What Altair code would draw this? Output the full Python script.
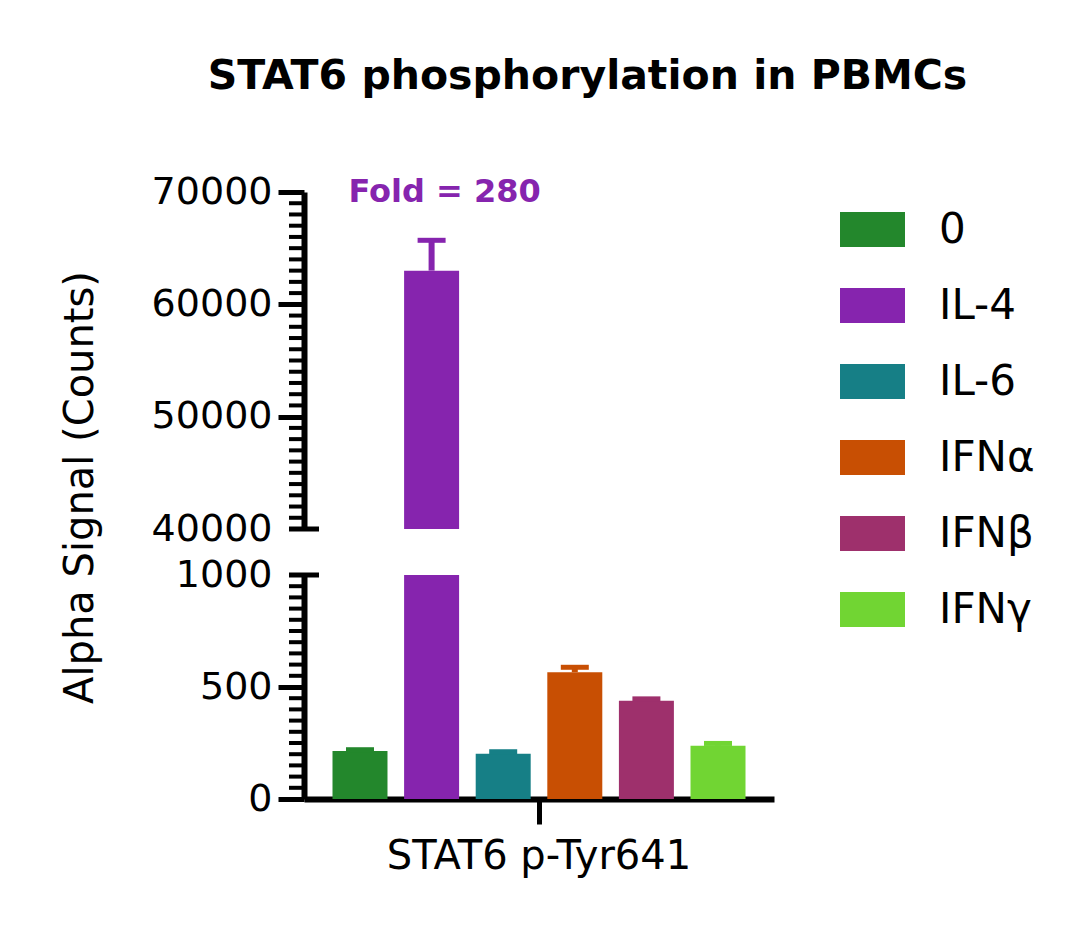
import altair as alt
import pandas as pd

# ---- data ----
treatments = ["0", "IL-4", "IL-6", "IFNα", "IFNβ", "IFNγ"]
means = [214, 63000, 202, 566, 439, 238]
errors = [6, 2700, 9, 22, 8, 10]
colors = ["#23872C", "#8624AE", "#167F86", "#C84F03", "#9E306C", "#71D533"]
group_name = "STAT6 p-Tyr641"
fold_label = "Fold = 280"
upper_major = [40000, 50000, 60000, 70000]
lower_major = [0, 500, 1000]
upper_minor = [v for v in range(41000, 70000, 1000) if v % 10000]
lower_minor = [v for v in range(50, 1000, 50) if v % 500]

FONT = "DejaVu Sans"
W = 470
H_UP = 337
H_LO = 224

df = pd.DataFrame({
    "group": [group_name] * len(treatments),
    "treatment": treatments,
    "mean": means,
    "top": [m + e for m, e in zip(means, errors)],
})


def x_enc(axis):
    return alt.X("group:N", scale=alt.Scale(paddingInner=0, paddingOuter=0),
                 title=None, axis=axis)


xo_enc = alt.XOffset("treatment:N", sort=treatments,
                     scale=alt.Scale(domain=treatments, paddingInner=0.232, paddingOuter=0.398))

legend = alt.Legend(title=None, orient="none", legendX=536, legendY=5,
                    symbolType="M-1,-0.54L1,-0.54L1,0.54L-1,0.54Z", symbolSize=4225,
                    symbolStrokeWidth=0, symbolOpacity=1,
                    labelFont=FONT, labelFontSize=42, labelColor="black",
                    labelOffset=34, rowPadding=22)


def panel(domain, major, minor, cap_value, x_axis, y_title):
    y_axis_kwargs = dict(
        values=major, format="d", grid=False,
        domainWidth=6, domainColor="black",
        tickSize=26, tickWidth=5, tickColor="black",
        tickOpacity={"condition": {"test": f"datum.value == {cap_value}", "value": 0}, "value": 1},
        labelFont=FONT, labelFontSize=38, labelColor="black", labelPadding=6,
    )
    if y_title:
        y_axis_kwargs.update(title=y_title, titleFont=FONT, titleFontSize=40,
                             titleFontWeight="normal", titleColor="black",
                             titleX=-224, titleY=295, titleBaseline="middle",
                             titleAlign="center", titleAngle=270)
    else:
        y_axis_kwargs.update(title=None)
    yscale = alt.Scale(domain=domain, zero=False, nice=False)
    color = alt.Color("treatment:N", sort=treatments,
                      scale=alt.Scale(domain=treatments, range=colors), legend=legend)

    base = alt.Chart(df)
    bars = base.mark_bar(clip=True).encode(
        x=x_enc(x_axis), xOffset=xo_enc,
        y=alt.Y("mean:Q", scale=yscale, axis=alt.Axis(**y_axis_kwargs)),
        color=color,
    )
    stems = base.mark_rule(clip=True, strokeWidth=6).encode(
        x=x_enc(x_axis), xOffset=xo_enc, y="mean:Q", y2="top:Q", color=color)
    caps = base.mark_tick(clip=True, thickness=5, size=28, opacity=1).encode(
        x=x_enc(x_axis), xOffset=xo_enc, y="top:Q", color=color)
    minor_ticks = alt.Chart(pd.DataFrame({"v": minor})).mark_rule(
        strokeWidth=4, color="black").encode(
        y="v:Q", x=alt.value(-15), x2=alt.value(0))
    break_cap = alt.Chart(pd.DataFrame({"v": [cap_value]})).mark_rule(
        strokeWidth=5, color="black").encode(
        y="v:Q", x=alt.value(-15), x2=alt.value(15))
    return [bars, stems, caps, minor_ticks, break_cap]


up_layers = panel([40000, 70000], upper_major, upper_minor, 40000,
                  None, "Alpha Signal (Counts)")
fold = alt.Chart(pd.DataFrame({"group": [group_name], "treatment": ["IL-4"],
                               "v": [70000], "label": [fold_label]})).mark_text(
    font=FONT, fontWeight="bold", fontSize=32, color="#8624AE", dx=13,
    baseline="middle", align="center").encode(
    x=x_enc(None), xOffset=xo_enc, y="v:Q", text="label:N")
upper = alt.layer(*up_layers, fold).properties(width=W, height=H_UP)

x_axis = alt.Axis(domainWidth=6, domainColor="black", tickSize=25, tickWidth=5,
                  tickColor="black", labelAngle=0, labelFont=FONT, labelFontSize=40,
                  labelColor="black", labelPadding=12, labelLimit=0, title=None)
lo_layers = panel([0, 1000], lower_major, lower_minor, 1000, x_axis, None)
lower = alt.layer(*lo_layers).properties(width=W, height=H_LO)

chart = alt.vconcat(upper, lower, spacing=46, bounds="flush").properties(
    title=alt.TitleParams("STAT6 phosphorylation in PBMCs", font=FONT, fontSize=41,
                          fontWeight="bold", color="black", anchor="middle", dx=40,
                          offset=75),
    padding={"left": 52, "top": 48, "right": 20, "bottom": 20},
).configure_view(stroke=None)

chart.save("out.html", embed_options={"renderer": "svg", "actions": False})
